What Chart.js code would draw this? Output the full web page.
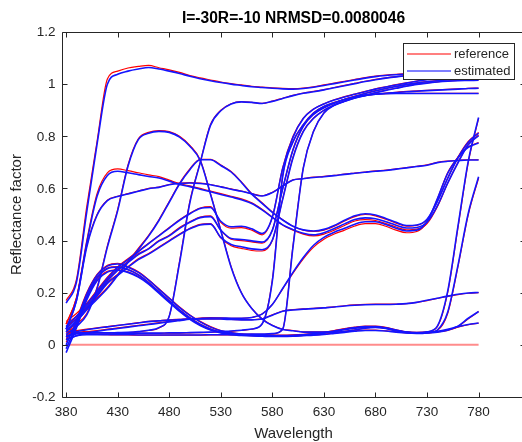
<!DOCTYPE html>
<html>
<head>
<meta charset="utf-8">
<title>Reflectance</title>
<script src="https://cdn.jsdelivr.net/npm/chart.js@4/dist/chart.umd.min.js"></script>
<style>
  html, body { margin: 0; padding: 0; overflow: hidden; background: #fff; }
  canvas { display: block; }
</style>
</head>
<body>
<canvas id="chart" width="540" height="442"></canvas>
<script>
// wavelengths (nm) and tick values
var wavelengths = [380,390,400,410,420,430,440,450,460,470,480,490,500,510,520,530,540,550,560,570,580,590,600,610,620,630,640,650,660,670,680,690,700,710,720,730,740,750,760,770,780];
var xTicks = [380,430,480,530,580,630,680,730,780];
var yTicks = [-0.2,0,0.2,0.4,0.6,0.8,1,1.2];
var yTickLabels = ['-0.2','0','0.2','0.4','0.6','0.8','1','1.2'];
var legendLabels = ['reference', 'estimated'];

// reflectance curves (ref = red, est = blue)
var whiteRef = [0.17,0.25,0.53,0.78,1.02,1.05,1.062,1.068,1.072,1.063,1.055,1.045,1.033,1.024,1.016,1.008,1.002,0.997,0.992,0.989,0.986,0.984,0.983,0.985,0.99,0.997,1.004,1.011,1.018,1.025,1.031,1.035,1.038,1.04,1.042,1.043,1.044,1.045,1.046,1.046,1.047];
var whiteEst = [0.16,0.24,0.51,0.77,1.0,1.038,1.05,1.058,1.064,1.058,1.05,1.041,1.03,1.021,1.013,1.006,1.0,0.995,0.99,0.987,0.984,0.982,0.981,0.983,0.988,0.995,1.002,1.009,1.016,1.023,1.029,1.033,1.036,1.038,1.04,1.041,1.042,1.043,1.044,1.044,1.045];
var yellowRef = [0.05,0.048,0.047,0.046,0.046,0.046,0.047,0.05,0.055,0.065,0.11,0.32,0.55,0.70,0.845,0.90,0.925,0.933,0.93,0.926,0.935,0.946,0.957,0.966,0.972,0.979,0.987,0.995,1.003,1.011,1.018,1.024,1.029,1.033,1.036,1.038,1.04,1.041,1.041,1.042,1.042];
var yellowEst = [0.035,0.042,0.045,0.046,0.046,0.047,0.048,0.051,0.056,0.066,0.11,0.315,0.545,0.698,0.842,0.898,0.924,0.932,0.93,0.926,0.934,0.945,0.956,0.965,0.971,0.978,0.986,0.994,1.002,1.01,1.017,1.023,1.028,1.032,1.035,1.037,1.039,1.04,1.04,1.041,1.041];
var orange1Ref = [0.09,0.12,0.16,0.21,0.26,0.30,0.33,0.36,0.39,0.42,0.45,0.48,0.505,0.525,0.53,0.47,0.448,0.45,0.44,0.422,0.49,0.68,0.80,0.87,0.905,0.925,0.94,0.952,0.962,0.972,0.982,0.99,0.998,1.005,1.012,1.018,1.022,1.026,1.028,1.03,1.03];
var orange1Est = [0.07,0.11,0.155,0.205,0.255,0.296,0.327,0.357,0.388,0.418,0.448,0.478,0.503,0.523,0.527,0.474,0.453,0.455,0.445,0.427,0.49,0.676,0.796,0.868,0.904,0.924,0.939,0.951,0.961,0.971,0.981,0.989,0.997,1.004,1.011,1.017,1.021,1.025,1.027,1.029,1.029];
var orange2Ref = [0.08,0.11,0.15,0.20,0.25,0.29,0.32,0.35,0.37,0.40,0.42,0.45,0.472,0.49,0.495,0.44,0.405,0.40,0.395,0.39,0.44,0.60,0.75,0.84,0.885,0.91,0.928,0.942,0.954,0.965,0.975,0.984,0.992,0.999,1.005,1.01,1.014,1.017,1.019,1.021,1.022];
var orange2Est = [0.06,0.10,0.145,0.195,0.245,0.286,0.316,0.346,0.368,0.398,0.418,0.447,0.47,0.488,0.492,0.44,0.408,0.404,0.399,0.394,0.44,0.598,0.747,0.838,0.884,0.909,0.927,0.941,0.953,0.964,0.974,0.983,0.991,0.998,1.004,1.009,1.013,1.016,1.018,1.02,1.021];
var orange3Ref = [0.07,0.10,0.14,0.19,0.24,0.27,0.30,0.33,0.35,0.375,0.40,0.425,0.447,0.462,0.465,0.41,0.38,0.37,0.362,0.36,0.40,0.56,0.72,0.82,0.87,0.90,0.92,0.935,0.948,0.958,0.968,0.977,0.985,0.993,1.0,1.005,1.009,1.012,1.014,1.015,1.016];
var orange3Est = [0.05,0.09,0.136,0.186,0.236,0.267,0.297,0.327,0.348,0.373,0.398,0.423,0.445,0.46,0.463,0.412,0.385,0.376,0.368,0.365,0.402,0.558,0.717,0.818,0.869,0.899,0.919,0.934,0.947,0.957,0.967,0.976,0.984,0.992,0.999,1.004,1.008,1.011,1.013,1.014,1.015];
var red1Ref = [0.06,0.055,0.05,0.048,0.046,0.045,0.044,0.044,0.044,0.044,0.045,0.045,0.046,0.047,0.048,0.05,0.052,0.055,0.06,0.08,0.25,0.65,0.78,0.845,0.89,0.915,0.93,0.942,0.952,0.958,0.962,0.964,0.965,0.965,0.965,0.965,0.965,0.965,0.965,0.965,0.965];
var red1Est = [0.03,0.045,0.047,0.047,0.046,0.045,0.045,0.045,0.045,0.045,0.046,0.046,0.047,0.048,0.049,0.051,0.053,0.056,0.061,0.08,0.245,0.645,0.778,0.844,0.889,0.914,0.929,0.941,0.951,0.957,0.961,0.963,0.964,0.964,0.964,0.964,0.964,0.964,0.964,0.964,0.964];
var red2Ref = [0.05,0.045,0.042,0.04,0.039,0.038,0.038,0.037,0.037,0.037,0.037,0.037,0.037,0.037,0.038,0.038,0.038,0.039,0.04,0.04,0.042,0.06,0.38,0.68,0.82,0.89,0.92,0.935,0.948,0.957,0.962,0.966,0.969,0.972,0.974,0.976,0.978,0.98,0.982,0.984,0.985];
var red2Est = [0.02,0.035,0.039,0.039,0.039,0.039,0.039,0.038,0.038,0.038,0.038,0.038,0.038,0.038,0.039,0.039,0.039,0.04,0.041,0.041,0.043,0.06,0.375,0.678,0.819,0.889,0.919,0.934,0.947,0.956,0.961,0.965,0.968,0.971,0.973,0.975,0.977,0.979,0.981,0.983,0.984];
var grayBlueRef = [0.08,0.18,0.38,0.50,0.555,0.57,0.58,0.59,0.60,0.605,0.615,0.62,0.622,0.62,0.615,0.607,0.598,0.59,0.58,0.572,0.585,0.61,0.633,0.638,0.643,0.646,0.65,0.655,0.659,0.663,0.667,0.67,0.675,0.68,0.685,0.69,0.70,0.705,0.708,0.71,0.71];
var grayBlueEst = [0.06,0.17,0.375,0.497,0.553,0.569,0.579,0.589,0.599,0.604,0.614,0.619,0.621,0.619,0.614,0.606,0.597,0.589,0.579,0.571,0.584,0.609,0.632,0.637,0.642,0.645,0.649,0.654,0.658,0.662,0.666,0.669,0.674,0.679,0.684,0.689,0.699,0.704,0.707,0.709,0.709];
var cyanRef = [0.06,0.08,0.12,0.22,0.38,0.52,0.69,0.79,0.815,0.822,0.818,0.80,0.765,0.71,0.58,0.44,0.30,0.20,0.14,0.10,0.075,0.06,0.055,0.05,0.05,0.05,0.05,0.052,0.058,0.065,0.068,0.064,0.055,0.05,0.048,0.048,0.05,0.055,0.07,0.10,0.128];
var cyanEst = [0.04,0.07,0.115,0.215,0.375,0.515,0.685,0.787,0.812,0.819,0.815,0.797,0.762,0.707,0.578,0.438,0.298,0.199,0.139,0.099,0.074,0.059,0.054,0.049,0.049,0.049,0.049,0.051,0.057,0.064,0.067,0.063,0.054,0.049,0.047,0.047,0.049,0.056,0.072,0.102,0.128];
var greenRef = [0.07,0.10,0.14,0.18,0.22,0.27,0.32,0.37,0.42,0.48,0.55,0.62,0.675,0.712,0.712,0.69,0.665,0.625,0.58,0.545,0.51,0.48,0.455,0.44,0.435,0.44,0.455,0.475,0.492,0.50,0.495,0.482,0.467,0.455,0.458,0.48,0.55,0.64,0.72,0.78,0.815];
var greenEst = [0.05,0.09,0.135,0.175,0.216,0.266,0.316,0.366,0.417,0.477,0.547,0.617,0.672,0.71,0.71,0.688,0.663,0.623,0.578,0.543,0.508,0.479,0.455,0.441,0.437,0.443,0.458,0.478,0.495,0.503,0.498,0.485,0.47,0.458,0.46,0.482,0.55,0.638,0.717,0.777,0.812];
var lavenderRef = [0.08,0.18,0.40,0.58,0.66,0.675,0.668,0.66,0.652,0.645,0.632,0.618,0.61,0.60,0.59,0.58,0.57,0.56,0.545,0.52,0.49,0.46,0.44,0.425,0.418,0.425,0.44,0.458,0.475,0.48,0.477,0.465,0.452,0.441,0.444,0.465,0.53,0.62,0.70,0.77,0.805];
var lavenderEst = [0.06,0.17,0.39,0.57,0.65,0.666,0.66,0.653,0.646,0.64,0.628,0.615,0.607,0.597,0.587,0.577,0.567,0.557,0.542,0.518,0.489,0.46,0.442,0.428,0.422,0.43,0.446,0.464,0.481,0.487,0.484,0.472,0.459,0.448,0.45,0.47,0.533,0.62,0.698,0.767,0.802];
var skinRef = [0.04,0.045,0.05,0.055,0.06,0.065,0.07,0.075,0.08,0.085,0.09,0.095,0.10,0.103,0.105,0.104,0.102,0.102,0.105,0.118,0.155,0.215,0.275,0.33,0.375,0.405,0.425,0.44,0.456,0.465,0.465,0.455,0.44,0.43,0.435,0.47,0.56,0.66,0.72,0.76,0.776];
var skinEst = [0.02,0.035,0.045,0.052,0.058,0.063,0.068,0.073,0.078,0.083,0.088,0.093,0.098,0.101,0.103,0.103,0.102,0.102,0.105,0.118,0.155,0.216,0.278,0.335,0.382,0.412,0.432,0.447,0.463,0.472,0.472,0.462,0.447,0.437,0.44,0.473,0.56,0.658,0.718,0.758,0.774];
var blue1Ref = [0.03,0.10,0.20,0.27,0.305,0.313,0.30,0.28,0.25,0.215,0.18,0.145,0.115,0.09,0.07,0.055,0.047,0.042,0.04,0.038,0.037,0.037,0.038,0.04,0.043,0.048,0.055,0.062,0.068,0.072,0.072,0.067,0.058,0.05,0.047,0.05,0.07,0.20,0.45,0.70,0.87];
var blue1Est = [0.0,0.09,0.195,0.267,0.302,0.31,0.298,0.278,0.248,0.213,0.178,0.143,0.113,0.088,0.068,0.054,0.046,0.041,0.039,0.037,0.036,0.036,0.037,0.039,0.042,0.047,0.053,0.06,0.066,0.07,0.07,0.065,0.057,0.049,0.046,0.05,0.072,0.205,0.455,0.705,0.872];
var blue2Ref = [0.02,0.09,0.19,0.26,0.295,0.30,0.29,0.27,0.24,0.205,0.17,0.135,0.105,0.08,0.062,0.05,0.043,0.04,0.038,0.036,0.035,0.035,0.036,0.038,0.041,0.046,0.053,0.06,0.066,0.07,0.07,0.065,0.056,0.048,0.045,0.046,0.055,0.12,0.30,0.50,0.64];
var blue2Est = [-0.015,0.075,0.183,0.256,0.292,0.298,0.288,0.268,0.238,0.203,0.168,0.133,0.103,0.078,0.06,0.049,0.042,0.039,0.037,0.035,0.034,0.034,0.035,0.037,0.04,0.045,0.051,0.058,0.064,0.068,0.068,0.064,0.055,0.047,0.044,0.046,0.057,0.125,0.305,0.505,0.645];
var blue3Ref = [0.01,0.08,0.18,0.25,0.282,0.288,0.28,0.262,0.235,0.20,0.165,0.13,0.10,0.075,0.058,0.047,0.04,0.037,0.035,0.034,0.033,0.033,0.034,0.036,0.038,0.041,0.045,0.05,0.054,0.057,0.057,0.054,0.05,0.046,0.045,0.046,0.05,0.058,0.068,0.077,0.083];
var blue3Est = [-0.03,0.065,0.172,0.246,0.279,0.286,0.278,0.26,0.233,0.198,0.163,0.128,0.098,0.074,0.057,0.046,0.039,0.036,0.034,0.033,0.032,0.032,0.033,0.035,0.037,0.04,0.044,0.048,0.052,0.055,0.055,0.053,0.049,0.046,0.045,0.047,0.052,0.06,0.07,0.078,0.084];
var brownRef = [0.05,0.055,0.06,0.065,0.07,0.075,0.08,0.085,0.09,0.093,0.096,0.098,0.10,0.10,0.10,0.10,0.098,0.097,0.097,0.10,0.115,0.13,0.135,0.138,0.14,0.143,0.146,0.15,0.153,0.155,0.156,0.156,0.156,0.158,0.163,0.17,0.178,0.186,0.193,0.198,0.20];
var brownEst = [0.03,0.05,0.058,0.064,0.069,0.074,0.079,0.084,0.089,0.092,0.095,0.097,0.099,0.099,0.099,0.099,0.097,0.096,0.096,0.099,0.114,0.129,0.134,0.137,0.139,0.142,0.145,0.149,0.152,0.154,0.155,0.155,0.156,0.158,0.163,0.171,0.179,0.187,0.194,0.199,0.201];
var blackRef = [0,0,0,0,0,0,0,0,0,0,0,0,0,0,0,0,0,0,0,0,0,0,0,0,0,0,0,0,0,0,0,0,0,0,0,0,0,0,0,0,0];

var refCurves = [whiteRef, yellowRef, orange1Ref, orange2Ref, orange3Ref, red1Ref, red2Ref, grayBlueRef, cyanRef, greenRef, lavenderRef, skinRef, blue1Ref, blue2Ref, blue3Ref, brownRef];
var estCurves = [whiteEst, yellowEst, orange1Est, orange2Est, orange3Est, red1Est, red2Est, grayBlueEst, cyanEst, greenEst, lavenderEst, skinEst, blue1Est, blue2Est, blue3Est, brownEst];

var FONT = '"Liberation Sans", Arial, Helvetica, sans-serif';
var AXIS_COLOR = '#262626';

function toPoints(values) {
  return values.map(function(v, i) {
    return {x: wavelengths[i], y: v};
  });
}

function lineDataset(values, color, width, order) {
  return {
    data: toPoints(values),
    borderColor: color,
    borderWidth: width,
    pointRadius: 0,
    fill: false,
    cubicInterpolationMode: 'monotone',
    order: order
  };
}

var datasets = [];
refCurves.forEach(function(curve) {
  datasets.push(lineDataset(curve, '#ff0000', 1.2, 1));
});
estCurves.forEach(function(curve) {
  datasets.push(lineDataset(curve, '#1414ff', 1.6, 0));
});
// black patch: reference only, sits on the zero line
datasets.push(lineDataset(blackRef, 'rgba(255,0,0,0.45)', 2, 2));

// MATLAB-like box, inward ticks, labels and legend
var matlabAxes = {
  id: 'matlabAxes',
  afterDraw: function(chart) {
    var ctx = chart.ctx;
    var area = chart.chartArea;
    var xs = chart.scales.x;
    var ys = chart.scales.y;
    var left = Math.round(area.left) + 0.5;
    var right = Math.round(area.right) + 0.5;
    var top = Math.round(area.top) + 0.5;
    var bottom = Math.round(area.bottom) + 0.5;
    var tick = 5;

    ctx.save();
    ctx.strokeStyle = AXIS_COLOR;
    ctx.lineWidth = 1;
    ctx.beginPath();
    ctx.moveTo(left, top); ctx.lineTo(right, top);
    ctx.lineTo(right, bottom); ctx.lineTo(left, bottom);
    ctx.closePath();

    xTicks.forEach(function(t) {
      var px = Math.round(xs.getPixelForValue(t)) + 0.5;
      ctx.moveTo(px, bottom); ctx.lineTo(px, bottom - tick);
      ctx.moveTo(px, top); ctx.lineTo(px, top + tick);
    });
    yTicks.forEach(function(t) {
      var py = Math.round(ys.getPixelForValue(t)) + 0.5;
      ctx.moveTo(left, py); ctx.lineTo(left + tick, py);
      ctx.moveTo(right, py); ctx.lineTo(right - tick, py);
    });
    ctx.stroke();

    // tick labels
    ctx.fillStyle = AXIS_COLOR;
    ctx.font = '13.5px ' + FONT;
    ctx.textAlign = 'center';
    ctx.textBaseline = 'top';
    xTicks.forEach(function(t) {
      ctx.fillText(String(t), xs.getPixelForValue(t), 406);
    });
    ctx.textAlign = 'right';
    ctx.textBaseline = 'middle';
    yTicks.forEach(function(t, i) {
      ctx.fillText(yTickLabels[i], area.left - 6.5, ys.getPixelForValue(t) + 0.5);
    });

    // axis titles
    var midX = (area.left + area.right) / 2;
    ctx.textAlign = 'center';
    ctx.textBaseline = 'alphabetic';
    ctx.font = '15px ' + FONT;
    ctx.fillText('Wavelength', midX, 438);
    ctx.save();
    ctx.translate(21, (area.top + area.bottom) / 2);
    ctx.rotate(-Math.PI / 2);
    ctx.fillText('Reflectance factor', 0, 0);
    ctx.restore();

    // title
    ctx.fillStyle = '#000';
    ctx.font = 'bold 15.6px ' + FONT;
    ctx.fillText('I=-30R=-10 NRMSD=0.0080046', midX, 23);

    // legend
    var lx = 403.5, ly = 43.5, lw = 111, lh = 36;
    ctx.fillStyle = '#fff';
    ctx.fillRect(lx, ly, lw, lh);
    ctx.strokeStyle = AXIS_COLOR;
    ctx.strokeRect(lx, ly, lw, lh);
    var colors = ['#ff0000', '#0000ff'];
    ctx.font = '13px ' + FONT;
    ctx.textAlign = 'left';
    ctx.textBaseline = 'middle';
    legendLabels.forEach(function(label, i) {
      var y = 54 + i * 17;
      ctx.strokeStyle = colors[i];
      ctx.lineWidth = 1.2;
      ctx.beginPath();
      ctx.moveTo(407, y); ctx.lineTo(451, y);
      ctx.stroke();
      ctx.fillStyle = AXIS_COLOR;
      ctx.fillText(label, 454, y + 0.5);
    });
    ctx.restore();
  }
};

new Chart(document.getElementById('chart'), {
  type: 'line',
  data: {datasets: datasets},
  options: {
    responsive: false,
    animation: false,
    devicePixelRatio: 1,
    layout: {padding: {left: 62, top: 32, right: 15, bottom: 45}},
    scales: {
      x: {type: 'linear', min: 376, max: 825, display: false},
      y: {type: 'linear', min: -0.2, max: 1.2, display: false}
    },
    plugins: {
      legend: {display: false},
      tooltip: {enabled: false},
      title: {display: false}
    }
  },
  plugins: [matlabAxes]
});
</script>
</body>
</html>
